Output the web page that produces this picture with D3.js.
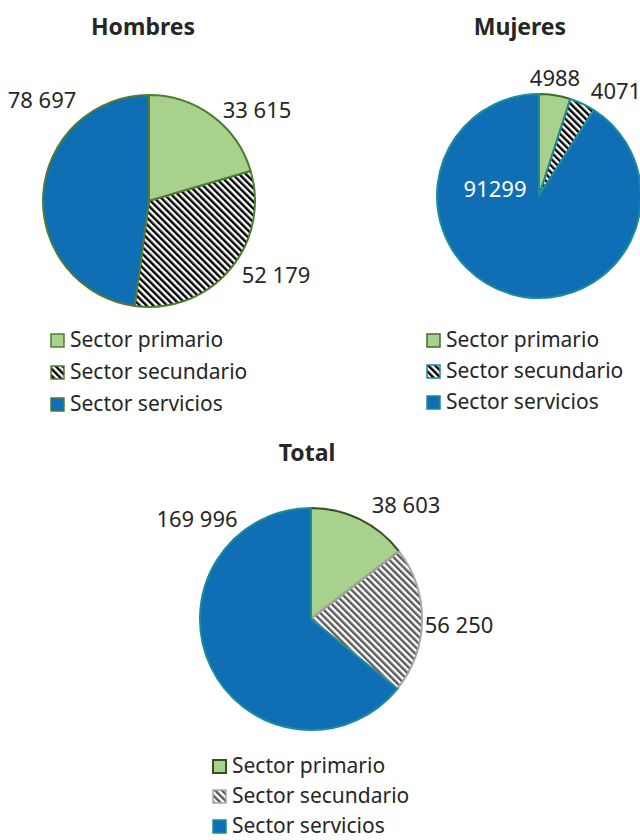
<!DOCTYPE html>
<html>
<head>
<meta charset="utf-8">
<script src="https://cdn.jsdelivr.net/npm/d3@7"></script>
<style>
  body { margin: 0; background: #fff; }
  text { font-family: "Noto Sans", sans-serif; fill: #262626; }
</style>
</head>
<body>
<svg id="svg" width="640" height="840"></svg>
<script>
// data
var sectors = ['Sector primario', 'Sector secundario', 'Sector servicios'];
var hombres = [33615, 52179, 78697];
var mujeres = [4988, 4071, 91299];
var total = [38603, 56250, 169996];
var hombresLabels = ['33 615', '52 179', '78 697'];
var mujeresLabels = ['4988', '4071', '91299'];
var totalLabels = ['38 603', '56 250', '169 996'];

var svg = d3.select('#svg');
var defs = svg.append('defs');

// stripe patterns for the secondary sector
function stripes(id, color) {
  var p = defs.append('pattern')
    .attr('id', id)
    .attr('patternUnits', 'userSpaceOnUse')
    .attr('width', 4.8)
    .attr('height', 4.8)
    .attr('patternTransform', 'rotate(-45)');
  p.append('rect').attr('width', 4.8).attr('height', 4.8).attr('fill', '#fff');
  p.append('rect').attr('width', 2.4).attr('height', 4.8).attr('fill', color);
}
stripes('stripeBlack', '#000');
stripes('stripeGrey', '#595959');

var charts = [
  {
    title: 'Hombres', values: hombres, labels: hombresLabels,
    cx: 149, cy: 201, r: 106, titleX: 143, titleY: 35,
    fills: ['#a9d18e', 'url(#stripeBlack)', '#106eb4'],
    strokes: ['#4e7d31', '#4e7d31', '#4e7d31'],
    // label anchor points (offset from pie centre), text colour
    labelPos: [[108, -89], [127, 76], [-107, -99]],
    labelFill: ['#262626', '#262626', '#262626'],
    legendX: 50, legendY: 333, legendStep: 32
  },
  {
    title: 'Mujeres', values: mujeres, labels: mujeresLabels,
    cx: 539, cy: 196, r: 102, titleX: 520, titleY: 35,
    fills: ['#a9d18e', 'url(#stripeBlack)', '#106eb4'],
    strokes: ['#3f6b2a', '#1b8c9a', '#1b8c9a'],
    labelPos: [[16, -116], [77, -103], [-44, -5]],
    labelFill: ['#262626', '#262626', '#ffffff'],
    legendX: 426, legendY: 333, legendStep: 31
  },
  {
    title: 'Total', values: total, labels: totalLabels,
    cx: 311, cy: 619, r: 111, titleX: 307, titleY: 461,
    fills: ['#a9d18e', 'url(#stripeGrey)', '#106eb4'],
    strokes: ['#33521f', '#a6a6a6', '#1b8c9a'],
    labelPos: [[95, -112], [148, 8], [-114, -98]],
    labelFill: ['#262626', '#262626', '#262626'],
    legendX: 212, legendY: 759, legendStep: 30
  }
];

var pie = d3.pie().sort(null).value(function(d){ return d; });

charts.forEach(function(c){
  var g = svg.append('g').attr('transform', 'translate(' + c.cx + ',' + c.cy + ')');
  var arc = d3.arc().innerRadius(0).outerRadius(c.r);
  var arcs = pie(c.values);

  g.selectAll('path.slice')
    .data(arcs)
    .enter().append('path')
    .attr('class', 'slice')
    .attr('d', arc)
    .attr('fill', function(d, i){ return c.fills[i]; })
    .attr('stroke', function(d, i){ return c.strokes[i]; })
    .attr('stroke-width', 2)
    .attr('stroke-linejoin', 'round');

  g.selectAll('text.lbl')
    .data(arcs)
    .enter().append('text')
    .attr('class', 'lbl')
    .attr('x', function(d, i){ return c.labelPos[i][0]; })
    .attr('y', function(d, i){ return c.labelPos[i][1]; })
    .attr('text-anchor', 'middle')
    .attr('dominant-baseline', 'middle')
    .style('font-size', '22px')
    .style('fill', function(d, i){ return c.labelFill[i]; })
    .text(function(d, i){ return c.labels[i]; });

  svg.append('text')
    .attr('x', c.titleX)
    .attr('y', c.titleY)
    .attr('text-anchor', 'middle')
    .style('font-size', '23px')
    .style('font-weight', 'bold')
    .text(c.title);

  // legend
  var lg = svg.append('g');
  sectors.forEach(function(s, i){
    var y = c.legendY + i * c.legendStep;
    lg.append('rect')
      .attr('x', c.legendX + 1)
      .attr('y', y + 1)
      .attr('width', 13)
      .attr('height', 13)
      .attr('fill', c.fills[i])
      .attr('stroke', c.strokes[i])
      .attr('stroke-width', i === 0 && c.title === 'Total' ? 2 : 1.5);
    lg.append('text')
      .attr('x', c.legendX + 20)
      .attr('y', y + 14)
      .style('font-size', '21px')
      .text(s);
  });
});
</script>
</body>
</html>
